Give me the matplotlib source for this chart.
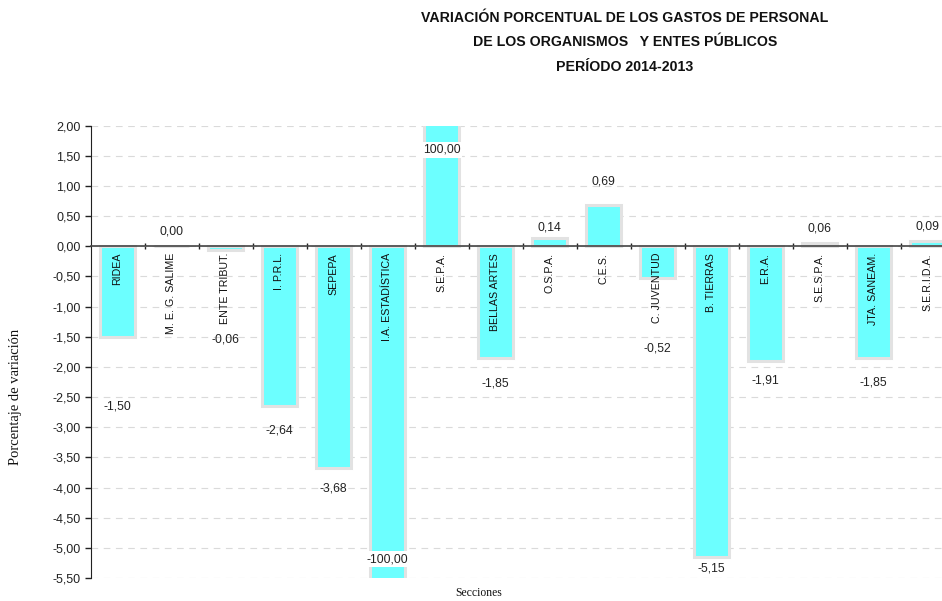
import numpy as np
import matplotlib
matplotlib.use("Agg")
from matplotlib import pyplot as plt

SANS = ["Liberation Sans", "DejaVu Sans"]
SERIF = ["Liberation Serif", "DejaVu Serif"]

secciones = ["RIDEA", "M. E. G. SALIME", "ENTE TRIBUT.", "I. P.R.L.", "SEPEPA",
             "I.A. ESTADÍSTICA", "S.E.P.A.", "BELLAS ARTES", "O.S.P.A.", "C.E.S.",
             "C. JUVENTUD", "B. TIERRAS", "E.R.A.", "S.E.S.P.A.", "JTA. SANEAM.",
             "S.E.R.I.D.A."]
variacion = [-1.50, 0.00, -0.06, -2.64, -3.68, -100.00, 100.00, -1.85, 0.14, 0.69,
             -0.52, -5.15, -1.91, 0.06, -1.85, 0.09]

# where excel dropped the data labels (data units)
label_y = [-2.66, 0.24, -1.55, -3.06, -4.02, -5.19, 1.60, -2.27, 0.32, 1.08,
           -1.69, -5.35, -2.23, 0.30, -2.25, 0.33]

y_ticks = np.arange(-5.5, 2.01, 0.5)

fig = plt.figure(figsize=(9.42, 6.01), dpi=100)
ax = fig.add_axes([90.5 / 942, 1 - 578 / 601, 864 / 942, (578 - 125.7) / 601])

x = np.arange(len(secciones))
ax.bar(x, variacion, width=0.66, color="#6CFFFF", edgecolor="#E2E2E2",
       linewidth=2.2, zorder=2)

ax.set_xlim(-0.5, len(secciones) - 0.5)
ax.set_ylim(-5.5, 2.0)
ax.set_yticks(y_ticks)
ax.set_yticklabels([f"{v:.2f}".replace(".", ",") for v in y_ticks],
                   family=SANS, fontsize=9, color="#222222")
ax.set_xticks(np.arange(len(secciones) - 1) + 0.5)
ax.set_xticklabels([])
ax.tick_params(axis="y", direction="out", length=4, width=1, color="#222222", pad=3)
ax.tick_params(axis="x", direction="inout", length=5, width=1, color="#222222")

ax.yaxis.grid(True, linestyle=(0, (6, 5)), color="#DADADA", linewidth=0.8, zorder=0)
ax.set_axisbelow(True)

for s in ["top", "right"]:
    ax.spines[s].set_visible(False)
ax.spines["bottom"].set_position(("data", 0))
ax.spines["bottom"].set_color("#444444")
ax.spines["bottom"].set_linewidth(1.2)
ax.spines["bottom"].set_zorder(3)
ax.spines["left"].set_color("#222222")

for i, (name, val, ly) in enumerate(zip(secciones, variacion, label_y)):
    ax.text(i, -0.11, name, rotation=90, ha="center", va="top",
            family=SANS, fontsize=7.7, color="#111111", zorder=4)
    txt = f"{val:.2f}".replace(".", ",")
    box = None
    if abs(val) >= 100 or val == 0.14:
        box = dict(facecolor="white", edgecolor="none", pad=1.5)
    ax.text(i, ly, txt, ha="center", va="center", family=SANS, fontsize=8.8,
            color="#222222", bbox=box, zorder=5)

fig.text(625 / 942, 1 - 42.5 / 601,
         "VARIACIÓN PORCENTUAL DE LOS GASTOS DE PERSONAL\n"
         "DE LOS ORGANISMOS   Y ENTES PÚBLICOS\nPERÍODO 2014-2013",
         ha="center", va="center", family=SANS, fontsize=10.2,
         fontweight="bold", linespacing=1.98, color="#111111")

fig.text(16 / 942, 1 - 397 / 601, "Porcentaje de variación", rotation=90,
         ha="center", va="center", family=SERIF, fontsize=10.5, color="#111111")
fig.text(479 / 942, 1 - 593 / 601, "Secciones", ha="center", va="center",
         family=SERIF, fontsize=8.4, color="#111111")

fig.savefig("out.png", dpi=100)
